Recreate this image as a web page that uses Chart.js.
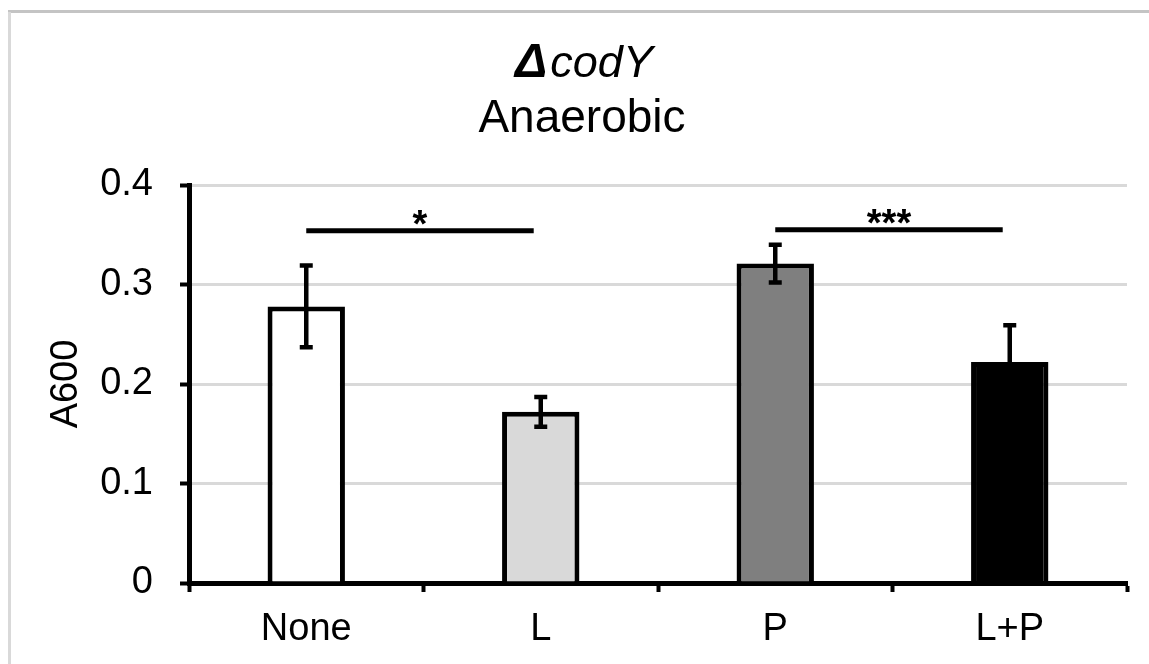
<!DOCTYPE html>
<html>
<head>
<meta charset="utf-8">
<script src="https://cdn.jsdelivr.net/npm/chart.js@4.4.1/dist/chart.umd.min.js"></script>
<style>
  html, body { margin: 0; padding: 0; background: #ffffff; }
  canvas { display: block; }
</style>
</head>
<body>
<canvas id="c" width="1149" height="664"></canvas>
<script>
// ---- data ----
const categories = ['None', 'L', 'P', 'L+P'];
const meanA600 = [0.278, 0.172, 0.321, 0.222];
const errUpper = [0.041, 0.015, 0.019, 0.037];
const errLower = [0.041, 0.015, 0.019, 0.037];
const barColors = ['#ffffff', '#d9d9d9', '#7f7f7f', '#000000'];
const yTickLabels = ['0', '0.1', '0.2', '0.3', '0.4'];
const sigStart = [0, 2];
const sigEnd = [0.97, 2.97];
const sigLevel = [0.354, 0.355];
const sigLabel = ['*', '***'];
const titleSymbol = 'Δ';
const titleGene = 'codY';
const titleSub = 'Anaerobic';
const yAxisTitle = 'A600';

const FONT = '"Liberation Sans", Arial, Helvetica, sans-serif';

const framePlugin = {
  id: 'frame',
  beforeDraw(chart) {
    const ctx = chart.ctx;
    ctx.save();
    ctx.fillStyle = '#c4c4c4';
    ctx.fillRect(8, 10, chart.width - 8, 3);
    ctx.fillStyle = '#d9d9d9';
    ctx.fillRect(8, 12, 3, chart.height - 12);
    ctx.restore();
  }
};

const titlePlugin = {
  id: 'titleLines',
  afterDraw(chart) {
    const ctx = chart.ctx;
    const cx = 584;
    ctx.save();
    ctx.fillStyle = '#000';
    ctx.textBaseline = 'alphabetic';
    const f1 = 'italic bold 48px ' + FONT;
    const f2 = 'italic 45px ' + FONT;
    ctx.font = f1;
    const w1 = ctx.measureText(titleSymbol).width + 3;
    ctx.font = f2;
    const w2 = ctx.measureText(titleGene).width;
    const x0 = cx - (w1 + w2) / 2;
    ctx.textAlign = 'left';
    ctx.font = f1;
    ctx.fillText(titleSymbol, x0, 77);
    ctx.font = f2;
    ctx.fillText(titleGene, x0 + w1, 77);
    ctx.textAlign = 'center';
    ctx.font = '46px ' + FONT;
    ctx.fillText(titleSub, 582, 132);
    ctx.restore();
  }
};

const errorBarPlugin = {
  id: 'errorBars',
  afterDatasetsDraw(chart) {
    const ctx = chart.ctx;
    const meta = chart.getDatasetMeta(0);
    const ys = chart.scales.y;
    ctx.save();
    ctx.strokeStyle = '#000';
    ctx.lineWidth = 4.5;
    ctx.lineCap = 'butt';
    meta.data.forEach((el, i) => {
      const x = el.x;
      const yT = ys.getPixelForValue(meanA600[i] + errUpper[i]);
      const yB = ys.getPixelForValue(meanA600[i] - errLower[i]);
      const cap = 6.5;
      ctx.beginPath();
      ctx.moveTo(x, yT); ctx.lineTo(x, yB);
      ctx.moveTo(x - cap, yT); ctx.lineTo(x + cap, yT);
      ctx.moveTo(x - cap, yB); ctx.lineTo(x + cap, yB);
      ctx.stroke();
    });
    ctx.restore();
  }
};

const sigPlugin = {
  id: 'significance',
  afterDatasetsDraw(chart) {
    const ctx = chart.ctx;
    const xs = chart.scales.x, ys = chart.scales.y;
    ctx.save();
    ctx.strokeStyle = '#000';
    ctx.fillStyle = '#000';
    ctx.lineWidth = 5;
    ctx.font = 'bold 38px ' + FONT;
    ctx.textAlign = 'center';
    ctx.textBaseline = 'alphabetic';
    sigLabel.forEach((lab, i) => {
      const x1 = xs.getPixelForValue(sigStart[i]);
      const x2 = xs.getPixelForValue(sigEnd[i]);
      const y = ys.getPixelForValue(sigLevel[i]);
      ctx.beginPath();
      ctx.moveTo(x1, y); ctx.lineTo(x2, y);
      ctx.stroke();
      ctx.fillText(lab, (x1 + x2) / 2, y + 6);
    });
    ctx.restore();
  }
};

new Chart(document.getElementById('c'), {
  type: 'bar',
  data: {
    labels: categories,
    datasets: [{
      data: meanA600,
      backgroundColor: barColors,
      borderColor: '#000000',
      borderWidth: 5,
      borderSkipped: 'start',
      categoryPercentage: 1.0,
      barPercentage: 0.33
    }]
  },
  options: {
    responsive: false,
    animation: false,
    devicePixelRatio: 1,
    layout: { padding: { top: 185, right: 22, bottom: 0, left: 0 } },
    plugins: {
      legend: { display: false },
      tooltip: { enabled: false },
      title: { display: false }
    },
    scales: {
      x: {
        z: 1,
        offset: true,
        grid: {
          offset: true,
          drawOnChartArea: false,
          drawTicks: true,
          tickLength: 9,
          tickColor: '#000',
          tickWidth: 4,
          color: '#000'
        },
        border: { display: true, color: '#000', width: 5 },
        ticks: {
          color: '#000',
          font: { family: FONT, size: 38 },
          padding: 15,
          maxRotation: 0,
          autoSkip: false
        },
        afterFit(scale) { scale.height = 81; }
      },
      y: {
        min: 0,
        max: 0.4,
        grid: {
          color: '#d9d9d9',
          lineWidth: 3,
          drawTicks: true,
          tickLength: 9,
          tickColor: '#000',
          tickWidth: 4
        },
        border: { display: true, color: '#000', width: 5 },
        ticks: {
          stepSize: 0.1,
          color: '#000',
          font: { family: FONT, size: 38 },
          padding: 27,
          callback: (v, i) => yTickLabels[i]
        },
        title: {
          display: true,
          text: yAxisTitle,
          color: '#000',
          font: { family: FONT, size: 38 },
          padding: { top: 44, bottom: 0 }
        },
        afterFit(scale) { scale.width = 189; }
      }
    }
  },
  plugins: [framePlugin, titlePlugin, errorBarPlugin, sigPlugin]
});
</script>
</body>
</html>
